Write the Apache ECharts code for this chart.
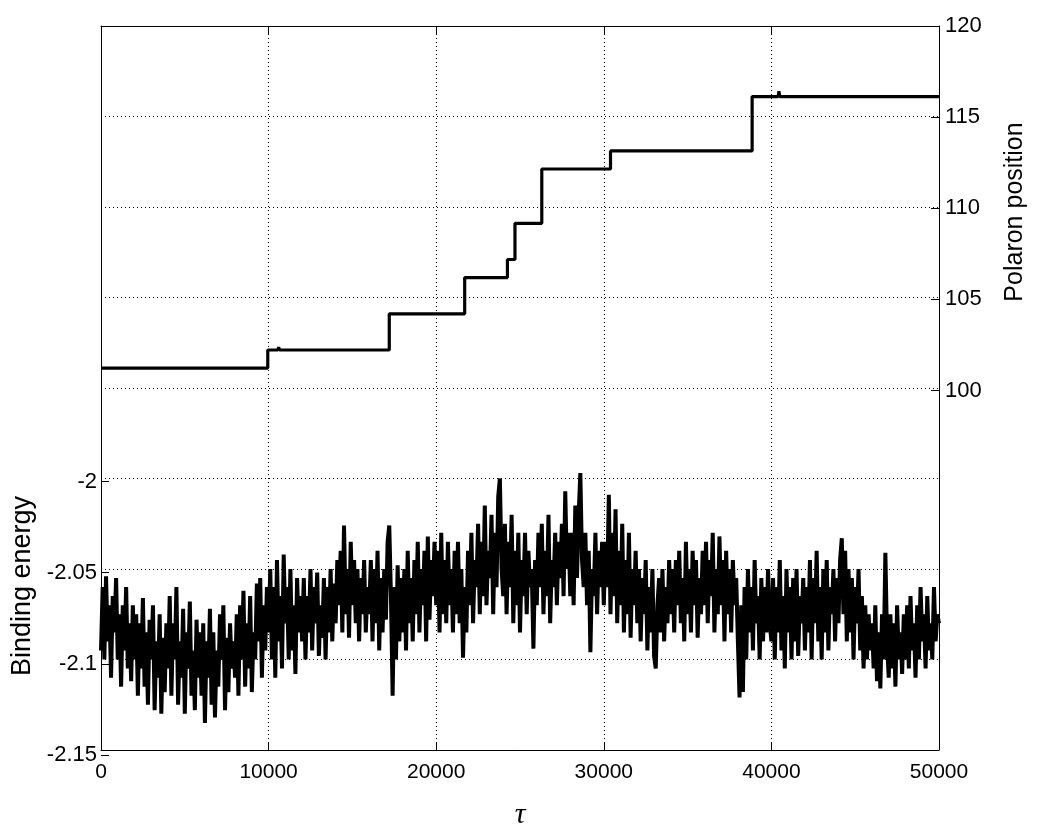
<!DOCTYPE html>
<html>
<head>
<meta charset="utf-8">
<script src="https://cdn.jsdelivr.net/npm/echarts@6/dist/echarts.min.js"></script>
<style>html,body{margin:0;padding:0;background:#fff}#c{width:1042px;height:835px}</style>
</head>
<body>
<div id="c"></div>
<script>
// ---- data ----
const tauStep = 100; // sampling step of binding-energy trace
const bindingEnergy = [
 -2.095,-2.06,-2.1,-2.054,-2.09,-2.07,-2.11,-2.065,-2.085,-2.055,-2.1,-2.075,-2.115,-2.07,-2.095,-2.06,-2.105,-2.08,-2.112,-2.07,
 -2.1,-2.075,-2.12,-2.08,-2.105,-2.066,-2.115,-2.085,-2.125,-2.078,-2.1,-2.07,-2.128,-2.09,-2.11,-2.075,-2.13,-2.088,-2.118,-2.08,
 -2.105,-2.065,-2.12,-2.08,-2.1,-2.06,-2.125,-2.09,-2.11,-2.072,-2.13,-2.085,-2.105,-2.068,-2.12,-2.095,-2.128,-2.078,-2.11,-2.085,
 -2.12,-2.08,-2.135,-2.09,-2.11,-2.072,-2.125,-2.085,-2.132,-2.095,-2.115,-2.075,-2.1,-2.07,-2.128,-2.088,-2.118,-2.08,-2.105,-2.09,
 -2.11,-2.075,-2.12,-2.07,-2.1,-2.062,-2.115,-2.08,-2.105,-2.065,-2.118,-2.085,-2.1,-2.058,-2.09,-2.055,-2.11,-2.07,-2.095,-2.06,
 -2.085,-2.05,-2.1,-2.06,-2.11,-2.045,-2.09,-2.065,-2.105,-2.042,-2.08,-2.06,-2.1,-2.05,-2.095,-2.07,-2.108,-2.055,-2.085,-2.065,
 -2.09,-2.055,-2.1,-2.065,-2.085,-2.05,-2.095,-2.06,-2.08,-2.052,-2.098,-2.07,-2.088,-2.055,-2.1,-2.06,-2.085,-2.05,-2.09,-2.058,
 -2.08,-2.045,-2.07,-2.04,-2.085,-2.026,-2.075,-2.05,-2.088,-2.035,-2.07,-2.045,-2.08,-2.05,-2.09,-2.055,-2.075,-2.045,-2.085,-2.06,
 -2.075,-2.045,-2.09,-2.05,-2.08,-2.04,-2.095,-2.055,-2.085,-2.05,-2.078,-2.035,-2.026,-2.065,-2.12,-2.06,-2.1,-2.048,-2.09,-2.055,
 -2.085,-2.05,-2.095,-2.04,-2.08,-2.055,-2.09,-2.045,-2.075,-2.035,-2.085,-2.05,-2.07,-2.04,-2.09,-2.032,-2.078,-2.045,-2.065,-2.035,
 -2.07,-2.04,-2.085,-2.03,-2.075,-2.045,-2.08,-2.035,-2.07,-2.05,-2.085,-2.04,-2.075,-2.035,-2.08,-2.05,-2.099,-2.06,-2.085,-2.04,
 -2.07,-2.03,-2.08,-2.045,-2.06,-2.025,-2.075,-2.035,-2.065,-2.015,-2.07,-2.04,-2.055,-2.02,-2.075,-2.03,-2.06,-2.01,-2.0,-2.05,
 -2.065,-2.025,-2.075,-2.035,-2.06,-2.02,-2.08,-2.04,-2.07,-2.03,-2.085,-2.045,-2.065,-2.03,-2.075,-2.04,-2.06,-2.05,-2.094,-2.045,
 -2.07,-2.03,-2.06,-2.025,-2.075,-2.04,-2.065,-2.02,-2.08,-2.045,-2.06,-2.03,-2.07,-2.035,-2.055,-2.025,-2.065,-2.007,-2.05,-2.03,
 -2.065,-2.03,-2.07,-2.015,-2.055,-2.02,-1.997,-2.045,-2.06,-2.03,-2.07,-2.04,-2.096,-2.05,-2.065,-2.03,-2.075,-2.04,-2.06,-2.035,
 -2.07,-2.035,-2.06,-2.009,-2.075,-2.03,-2.065,-2.017,-2.08,-2.04,-2.07,-2.025,-2.085,-2.045,-2.075,-2.03,-2.088,-2.05,-2.07,-2.04,
 -2.08,-2.05,-2.09,-2.055,-2.075,-2.045,-2.095,-2.06,-2.085,-2.05,-2.098,-2.105,-2.07,-2.055,-2.085,-2.05,-2.09,-2.06,-2.08,-2.045,
 -2.075,-2.05,-2.085,-2.045,-2.07,-2.04,-2.08,-2.055,-2.09,-2.035,-2.075,-2.05,-2.085,-2.04,-2.07,-2.045,-2.088,-2.055,-2.075,-2.04,
 -2.07,-2.035,-2.08,-2.045,-2.065,-2.03,-2.085,-2.05,-2.075,-2.032,-2.07,-2.045,-2.09,-2.04,-2.075,-2.05,-2.085,-2.045,-2.07,-2.055,
 -2.09,-2.121,-2.07,-2.118,-2.06,-2.1,-2.05,-2.085,-2.06,-2.095,-2.045,-2.08,-2.065,-2.1,-2.055,-2.09,-2.06,-2.085,-2.05,-2.08,
 -2.09,-2.055,-2.1,-2.06,-2.085,-2.045,-2.095,-2.065,-2.105,-2.05,-2.085,-2.06,-2.1,-2.055,-2.09,-2.05,-2.098,-2.065,-2.08,-2.055,
 -2.095,-2.06,-2.085,-2.045,-2.1,-2.055,-2.08,-2.04,-2.09,-2.06,-2.1,-2.05,-2.085,-2.045,-2.095,-2.06,-2.075,-2.05,-2.09,-2.055,
 -2.08,-2.045,-2.033,-2.075,-2.04,-2.09,-2.05,-2.085,-2.055,-2.1,-2.06,-2.08,-2.05,-2.095,-2.065,-2.105,-2.07,-2.1,-2.075,-2.095,
 -2.08,-2.105,-2.07,-2.112,-2.085,-2.116,-2.075,-2.1,-2.041,-2.09,-2.11,-2.075,-2.105,-2.08,-2.115,-2.07,-2.1,-2.085,-2.108,-2.075,
 -2.1,-2.07,-2.105,-2.065,-2.095,-2.08,-2.11,-2.07,-2.1,-2.06,-2.09,-2.075,-2.105,-2.065,-2.095,-2.08,-2.1,-2.06,-2.09,-2.075,-2.08
];
// polaron position: [tau, site]
const polaronPosition = [
 [0,101.1],[9950,101.1],[9950,102.1],[10550,102.1],[10600,102.25],[10650,102.1],
 [17200,102.1],[17200,104.1],[21700,104.1],[21700,106.1],[24250,106.1],[24250,107.1],
 [24700,107.1],[24700,109.1],[26300,109.1],[26300,112.1],[30400,112.1],[30400,113.1],
 [38850,113.1],[38850,116.1],[40400,116.1],[40450,116.4],[40500,116.1],[50000,116.1]
];
const xRange = [0, 50000, 10000];
const energyRange = [-2.15, -1.75, 0.05];   // full left axis
const energyLabelRange = [-2.15, -2.0];      // labelled part
const positionRange = [80, 120, 5];         // full right axis
const positionLabelRange = [100, 120];       // labelled part

// ---- chart ----
const energyPairs = bindingEnergy.map((v,i)=>[i*tauStep, v]);
const font = "'Liberation Sans', Arial, Helvetica, sans-serif";
const chart = echarts.init(document.getElementById('c'), null, {renderer:'canvas'});
const dotted = {show:true, lineStyle:{color:'#000', width:1, type:[1,3]}};
const line = {show:true, onZero:false, lineStyle:{color:'#000', width:1}};
const noLine = {show:false, onZero:false};
const tickIn = {show:true, inside:true, length:8, lineStyle:{color:'#000', width:1}};
const noTick = {show:false};
const lbl = {color:'#000', fontSize:22, fontFamily:font};

const G = {left:101, right:103, top:26, bottom:80};
const plotH = 835 - G.top - G.bottom;
const energyFrac = (energyLabelRange[1]-energyLabelRange[0])/(energyRange[1]-energyRange[0]);
const posFrac = (positionLabelRange[1]-positionLabelRange[0])/(positionRange[1]-positionRange[0]);

chart.setOption({
  animation:false,
  backgroundColor:'#fff',
  grid:[
    {left:G.left, right:G.right, top:G.top, bottom:G.bottom},
    {left:G.left, right:G.right, bottom:G.bottom, height:plotH*energyFrac},
    {left:G.left, right:G.right, top:G.top, height:plotH*posFrac}
  ],
  xAxis:[{
    gridIndex:0, type:'value', min:xRange[0], max:xRange[1], interval:xRange[2], position:'bottom',
    axisLine:line, axisTick:tickIn,
    axisLabel:Object.assign({}, lbl, {margin:12, fontSize:21, formatter:v=>String(v)}),
    splitLine:dotted,
    name:'τ', nameLocation:'middle', nameGap:50,
    nameTextStyle:{fontSize:30, fontStyle:'italic', fontFamily:"'Liberation Serif', 'DejaVu Serif', serif", color:'#000'}
  },{
    gridIndex:0, type:'value', min:xRange[0], max:xRange[1], interval:xRange[2], position:'top',
    axisLine:line, axisTick:tickIn, axisLabel:{show:false}, splitLine:{show:false}
  },{
    gridIndex:1, type:'value', min:xRange[0], max:xRange[1], show:false, axisLine:noLine
  },{
    gridIndex:2, type:'value', min:xRange[0], max:xRange[1], show:false, axisLine:noLine
  }],
  yAxis:[{
    gridIndex:0, type:'value', min:energyRange[0], max:energyRange[1], interval:energyRange[2], position:'left',
    axisLine:line, axisTick:noTick, axisLabel:{show:false}, splitLine:dotted
  },{
    gridIndex:0, type:'value', min:positionRange[0], max:positionRange[1], interval:positionRange[2], position:'right',
    axisLine:line, axisTick:noTick, axisLabel:{show:false}, splitLine:{show:false}
  },{
    gridIndex:1, type:'value', min:energyLabelRange[0], max:energyLabelRange[1], interval:energyRange[2], position:'left',
    axisLine:noLine, axisTick:tickIn, splitLine:{show:false},
    axisLabel:Object.assign({}, lbl, {margin:4, formatter:v=>String(Math.round(v*100)/100)})
  },{
    gridIndex:2, type:'value', min:positionLabelRange[0], max:positionLabelRange[1], interval:positionRange[2], position:'right',
    axisLine:noLine, axisTick:tickIn, splitLine:{show:false},
    axisLabel:Object.assign({}, lbl, {margin:6})
  }],
  graphic:[
    {type:'text', x:23, y:586, rotation:Math.PI/2,
     style:{text:'Binding energy', fontSize:27, fontFamily:font, fill:'#000', textAlign:'center', textVerticalAlign:'middle'}},
    {type:'text', x:1015, y:212, rotation:Math.PI/2,
     style:{text:'Polaron position', fontSize:25, fontFamily:font, fill:'#000', textAlign:'center', textVerticalAlign:'middle'}}
  ],
  series:[{
    type:'line', name:'Binding energy', xAxisIndex:0, yAxisIndex:0, data:energyPairs,
    showSymbol:false, symbol:'none', sampling:null,
    lineStyle:{color:'#000', width:4}
  },{
    type:'line', name:'Polaron position', xAxisIndex:0, yAxisIndex:1, data:polaronPosition,
    showSymbol:false, symbol:'none',
    lineStyle:{color:'#000', width:3.2}
  }]
});
</script>
</body>
</html>
